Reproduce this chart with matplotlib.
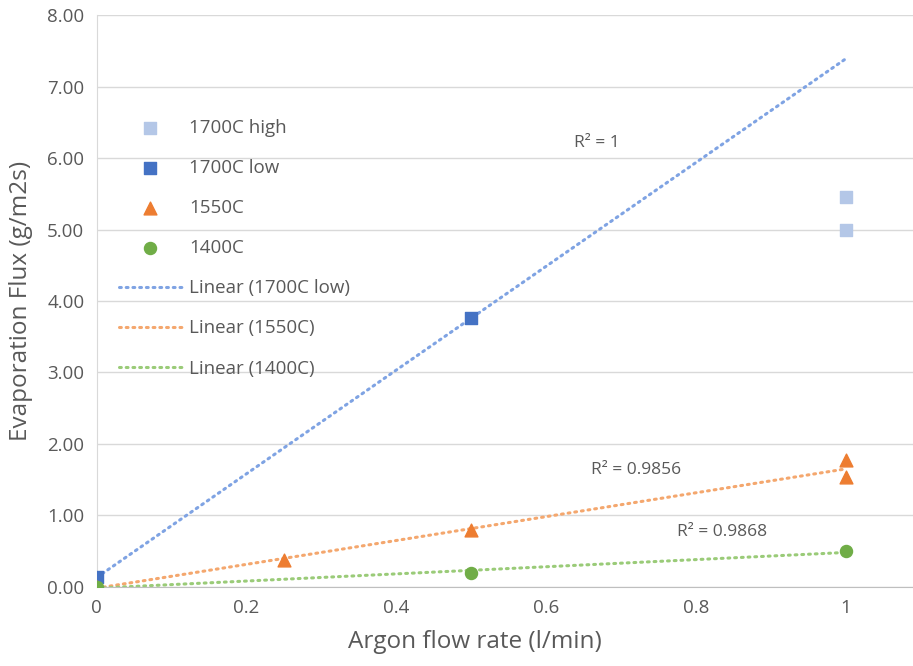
import matplotlib.pyplot as plt
import numpy as np

plt.rcParams['font.family'] = ['Open Sans', 'DejaVu Sans']

# data
x_high = [1, 1]
y_high = [5.45, 5.0]
x_low = [0, 0.5]
y_low = [0.13, 3.76]
x_1550 = [0, 0.25, 0.5, 1, 1]
y_1550 = [0.0, 0.38, 0.80, 1.77, 1.54]
x_1400 = [0, 0.5, 1]
y_1400 = [0.0, 0.19, 0.50]
r2_labels = ['R² = 1', 'R² = 0.9856', 'R² = 0.9868']
r2_pos = [(0.637, 6.21), (0.66, 1.64), (0.775, 0.76)]

grey = '#595959'
fig = plt.figure(figsize=(9.13, 6.66), dpi=100)
ax = fig.add_axes([0.106, 0.119, 0.894, 0.858])

def trend(x, y, color, label):
    m, b = np.polyfit(x, y, 1)
    xs = np.array([0, 1.0])
    return ax.plot(xs, m*xs+b, color=color, lw=2.2, ls=(0, (0.6, 1.6)), dash_capstyle='round', label=label, zorder=2)[0]

h1 = ax.scatter(x_high, y_high, marker='s', s=70, color='#B4C7E7', label='1700C high', zorder=3)
h2 = ax.scatter(x_low, y_low, marker='s', s=70, color='#4472C4', label='1700C low', zorder=3)
h3 = ax.scatter(x_1550, y_1550, marker='^', s=85, color='#ED7D31', label='1550C', zorder=3)
h4 = ax.scatter(x_1400, y_1400, marker='o', s=75, color='#70AD47', label='1400C', zorder=3)
t1 = trend(x_low, y_low, '#7FA3E3', 'Linear (1700C low)')
t2 = trend(x_1550, y_1550, '#F4A76E', 'Linear (1550C)')
t3 = trend(x_1400, y_1400, '#9ACB78', 'Linear (1400C)')

for lab, (px, py) in zip(r2_labels, r2_pos):
    ax.text(px, py, lab, fontsize=12.5, color=grey, ha='left', va='center')

ax.set_xlim(0, 1.09)
ax.set_ylim(0, 8)
ax.set_xticks([0, 0.2, 0.4, 0.6, 0.8, 1])
ax.set_xticklabels(['0', '0.2', '0.4', '0.6', '0.8', '1'])
ax.set_yticks(np.arange(0, 9, 1))
ax.set_yticklabels([f'{v:.2f}' for v in range(9)])
ax.tick_params(length=0, labelsize=13.5, labelcolor=grey, pad=9)
ax.grid(axis='y', color='#D9D9D9', lw=1)
ax.set_axisbelow(True)
for s in ['top', 'right']:
    ax.spines[s].set_visible(False)
ax.spines['bottom'].set_color('#BFBFBF')
ax.spines['left'].set_color('#D9D9D9')
ax.set_xlabel('Argon flow rate (l/min)', fontsize=17.5, color=grey, labelpad=10)
ax.xaxis.set_label_coords(0.463, -0.075)
ax.set_ylabel('Evaporation Flux (g/m2s)', fontsize=17.5, color=grey, labelpad=10)

leg = ax.legend(handles=[h1, h2, h3, h4, t1, t2, t3], loc='upper left', bbox_to_anchor=(0.018, 0.832),
                frameon=False, fontsize=13.5, labelspacing=1.18, handlelength=3.36, handletextpad=0.37,
                borderaxespad=0)
for t in leg.get_texts():
    t.set_color(grey)

fig.savefig('out.png', dpi=100)
